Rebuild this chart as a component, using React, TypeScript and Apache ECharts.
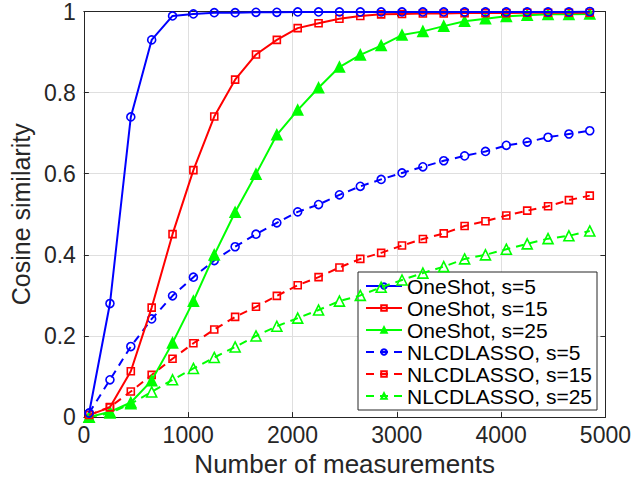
import React, { useEffect, useRef } from "react";
import * as echarts from "echarts";

const measurements = [50, 250, 450, 650, 850, 1050, 1250, 1450, 1650, 1850, 2050, 2250, 2450, 2650, 2850, 3050, 3250, 3450, 3650, 3850, 4050, 4250, 4450, 4650, 4850];

const oneShot5 = [0.01, 0.28, 0.74, 0.93, 0.989, 0.994, 0.997, 0.997, 0.998, 0.998, 0.999, 0.999, 0.999, 0.999, 0.999, 0.999, 0.999, 0.999, 0.999, 0.999, 0.999, 0.999, 0.999, 0.999, 1.0];
const oneShot15 = [0.005, 0.024, 0.113, 0.27, 0.451, 0.609, 0.741, 0.832, 0.894, 0.93, 0.959, 0.971, 0.982, 0.989, 0.993, 0.994, 0.995, 0.995, 0.996, 0.996, 0.996, 0.997, 0.997, 0.997, 0.997];
const oneShot25 = [0.0, 0.013, 0.036, 0.09, 0.183, 0.286, 0.4, 0.505, 0.599, 0.696, 0.757, 0.812, 0.863, 0.893, 0.916, 0.942, 0.951, 0.964, 0.976, 0.982, 0.988, 0.991, 0.993, 0.993, 0.994];
const nlcd5 = [0.01, 0.092, 0.174, 0.242, 0.299, 0.345, 0.386, 0.42, 0.451, 0.479, 0.506, 0.524, 0.548, 0.569, 0.586, 0.602, 0.617, 0.632, 0.644, 0.655, 0.67, 0.678, 0.69, 0.698, 0.706];
const nlcd15 = [0.005, 0.025, 0.063, 0.104, 0.144, 0.182, 0.216, 0.247, 0.272, 0.299, 0.325, 0.345, 0.369, 0.39, 0.405, 0.423, 0.439, 0.453, 0.471, 0.483, 0.497, 0.509, 0.52, 0.535, 0.546];
const nlcd25 = [0.0, 0.01, 0.033, 0.062, 0.092, 0.12, 0.147, 0.173, 0.2, 0.224, 0.244, 0.264, 0.286, 0.3, 0.32, 0.338, 0.355, 0.371, 0.39, 0.4, 0.414, 0.427, 0.44, 0.447, 0.459];

const seriesNames = ["OneShot, s=5", "OneShot, s=15", "OneShot, s=25", "NLCDLASSO, s=5", "NLCDLASSO, s=15", "NLCDLASSO, s=25"];
const xTicks = { min: 0, max: 5000, interval: 1000 };
const yTicks = { min: 0, max: 1, interval: 0.2 };

const FONT = "Liberation Sans, Arial, Helvetica, sans-serif";
const TXT = "#262626";

export default function App() {
  const ref = useRef<HTMLDivElement>(null);
  useEffect(() => {
    if (!ref.current) return;
    const chart = echarts.init(ref.current, undefined, { renderer: "svg" });
    const values = [oneShot5, oneShot15, oneShot25, nlcd5, nlcd15, nlcd25];
    const colors = ["#0000ff", "#ff0000", "#00ff00", "#0000ff", "#ff0000", "#00ff00"];
    const symbols = ["circle", "rect", "triangle", "circle", "rect", "triangle"];
    const sizes = [8, 7, 10, 8, 7, 10];
    const filled = [false, false, true, false, false, false];
    const dashed = [false, false, false, true, true, true];
    const series = values.map((vals, i) => ({
      name: seriesNames[i],
      type: "line",
      data: measurements.map((x, k) => [x, vals[k]]),
      symbol: symbols[i],
      symbolSize: sizes[i],
      showSymbol: true,
      lineStyle: { color: colors[i], width: 2, type: dashed[i] ? [8, 6] : "solid" },
      itemStyle: {
        color: filled[i] ? colors[i] : "rgba(255,255,255,0)",
        borderColor: colors[i],
        borderWidth: 1.6,
      },
      emphasis: { disabled: true },
      z: 10 - i,
    }));
    chart.setOption({
      animation: false,
      backgroundColor: "#ffffff",
      textStyle: { fontFamily: FONT },
      grid: { left: 81, right: 24, top: 10, bottom: 60, show: false },
      legend: {
        orient: "vertical",
        left: 358,
        top: 272,
        padding: [3, 5, 3, 7],
        itemGap: 0,
        itemWidth: 36,
        itemHeight: 7,
        backgroundColor: "#ffffff",
        borderColor: TXT,
        borderWidth: 1,
        borderRadius: 0,
        textStyle: { fontSize: 21, color: "#000", fontFamily: FONT, lineHeight: 22 },
        data: seriesNames,
      },
      xAxis: [
        {
          type: "value",
          ...xTicks,
          name: "Number of measurements",
          nameLocation: "middle",
          nameGap: 30,
          nameTextStyle: { fontSize: 26, color: TXT, fontFamily: FONT },
          axisLine: { show: true, lineStyle: { color: TXT, width: 1 } },
          axisTick: { show: true, inside: true, length: 5, lineStyle: { color: TXT } },
          axisLabel: { fontSize: 23, color: TXT, margin: 6, fontFamily: FONT, formatter: (v: number) => String(v) },
          splitLine: { show: true, lineStyle: { color: "#dfdfdf", width: 1 } },
        },
        {
          type: "value",
          ...xTicks,
          position: "top",
          axisLine: { show: true, onZero: false, lineStyle: { color: TXT, width: 1 } },
          axisTick: { show: true, inside: true, length: 5, lineStyle: { color: TXT } },
          axisLabel: { show: false },
          splitLine: { show: false },
        },
      ],
      yAxis: [
        {
          type: "value",
          ...yTicks,
          name: "Cosine similarity",
          nameLocation: "middle",
          nameGap: 47,
          nameTextStyle: { fontSize: 25, color: TXT, fontFamily: FONT },
          axisLine: { show: true, lineStyle: { color: TXT, width: 1 } },
          axisTick: { show: true, inside: true, length: 5, lineStyle: { color: TXT } },
          axisLabel: { fontSize: 23, color: TXT, margin: 8, fontFamily: FONT },
          splitLine: { show: true, lineStyle: { color: "#dfdfdf", width: 1 } },
        },
        {
          type: "value",
          ...yTicks,
          position: "right",
          axisLine: { show: true, onZero: false, lineStyle: { color: TXT, width: 1 } },
          axisTick: { show: true, inside: true, length: 5, lineStyle: { color: TXT } },
          axisLabel: { show: false },
          splitLine: { show: false },
        },
      ],
      series,
    });
    return () => chart.dispose();
  }, []);
  return (
    <div
      ref={ref}
      style={{ position: "fixed", left: 0, top: 0, width: 634, height: 482, background: "#fff" }}
    />
  );
}
